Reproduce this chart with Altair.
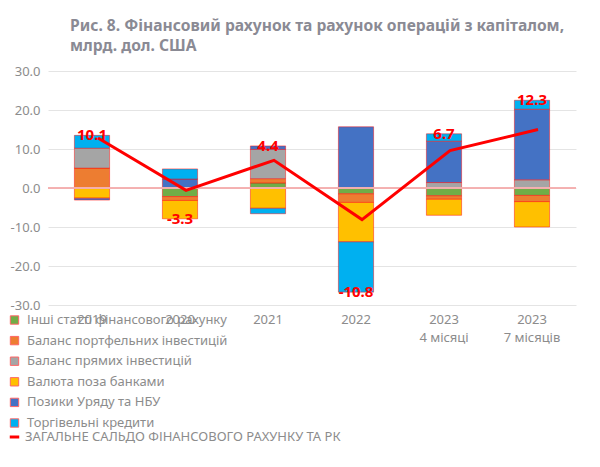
import altair as alt
import pandas as pd

categories = ["2019", "2020", "2021", "2022", "2023|4 місяці", "2023|7 місяців"]
series = [
    "Інші статті фінансового рахунку",
    "Баланс портфельних інвестицій",
    "Баланс прямих інвестицій",
    "Валюта поза банками",
    "Позики Уряду та НБУ",
    "Торгівельні кредити",
]
colors = ["#70AD47", "#ED7D31", "#A5A5A5", "#FFC000", "#4472C4", "#00B0F0"]

other = [0.0, -2.2, 1.3, -1.5, -2.0, -1.9]
portfolio = [5.1, -1.0, 1.1, -2.2, -0.9, -1.6]
direct = [5.1, 0.0, 7.5, 0.0, 1.4, 2.1]
currency = [-2.6, -4.7, -5.2, -10.1, -4.1, -6.5]
loans = [-0.5, 2.3, 0.9, 15.7, 10.6, 18.1]
trade = [3.3, 2.6, -1.4, -12.9, 1.9, 2.3]

total_line = [12.8, -0.6, 7.1, -8.1, 9.6, 15.0]
total_labels = [10.1, -3.3, 4.4, -10.8, 6.7, 12.3]
line_name = "ЗАГАЛЬНЕ САЛЬДО ФІНАНСОВОГО РАХУНКУ ТА РК"

title_lines = [
    "Рис. 8. Фінансовий рахунок та рахунок операцій з капіталом,",
    "млрд. дол. США",
]

series_values = [other, portfolio, direct, currency, loans, trade]
rows = []
for si, (name, vals) in enumerate(zip(series, series_values)):
    for ci, cat in enumerate(categories):
        rows.append({"cat": cat, "series": name, "order": si, "value": vals[ci]})
bars_df = pd.DataFrame(rows)

pos = bars_df[bars_df.value >= 0].groupby("cat").value.sum()
neg = bars_df[bars_df.value < 0].groupby("cat").value.sum()
lab_rows = []
for ci, cat in enumerate(categories):
    v = total_labels[ci]
    y = pos.get(cat, 0.0) if v > 0 else neg.get(cat, 0.0)
    lab_rows.append({"cat": cat, "label": f"{v:.1f}", "y": y})
labels_df = pd.DataFrame(lab_rows)

line_df = pd.DataFrame({"cat": categories, "value": total_line, "name": line_name})

FONT = "Noto Sans"
GRAY = "#8c8c8c"

xscale = alt.Scale(domain=categories, paddingInner=0.6, paddingOuter=0.3)
yscale = alt.Scale(domain=[-30, 30], nice=False)

y_axis = alt.Axis(
    values=[-30, -20, -10, 0, 10, 20, 30],
    labelExpr="replace(format(datum.value, '.1f'), '\u2212', '-')",
    labelOverlap=False,
    labelColor=GRAY,
    labelFontSize=13,
    labelFont=FONT,
    labelPadding=8,
    domain=False,
    ticks=False,
    gridColor="#e4e4e4",
)

x_enc = alt.X(
    "cat:N",
    scale=xscale,
    sort=categories,
    title=None,
    axis=alt.Axis(
        labelAngle=0,
        labelExpr="split(datum.label, '|')",
        labelColor=GRAY,
        labelFontSize=13,
        labelFont=FONT,
        labelPadding=8,
        domain=False,
        ticks=False,
        labelLineHeight=18,
    ),
)

bars = alt.Chart(bars_df).mark_bar(
    stroke="#ff0000", strokeOpacity=0.45, strokeWidth=1
).encode(
    x=x_enc,
    y=alt.Y("value:Q", scale=yscale, stack="zero", title=None, axis=y_axis),
    fill=alt.Fill(
        "series:N",
        scale=alt.Scale(domain=series, range=colors),
        sort=series,
        legend=alt.Legend(
            title=None,
            orient="none",
            legendX=-40,
            legendY=242.5,
            symbolType="square",
            symbolSize=70,
            symbolStrokeColor="#ff6666",
            symbolStrokeWidth=1,
            labelFontSize=13,
            labelFont=FONT,
            labelColor=GRAY,
            rowPadding=6.6,
            labelOffset=6,
            labelLimit=400,
        ),
    ),
    order=alt.Order("order:Q", sort="ascending"),
)

zero = alt.Chart(line_df).mark_rule(color="#f4b0b0", strokeWidth=1).encode(
    y=alt.datum(0, scale=yscale, axis=y_axis)
)

line = alt.Chart(line_df).mark_line(strokeWidth=3, xOffset=6).encode(
    x=x_enc,
    y=alt.Y("value:Q", scale=yscale, axis=y_axis),
    stroke=alt.Stroke(
        "name:N",
        scale=alt.Scale(domain=[line_name], range=["#ff0000"]),
        legend=alt.Legend(
            title=None,
            orient="none",
            legendX=-40,
            legendY=359.5,
            symbolType="stroke",
            symbolStrokeWidth=3,
            symbolSize=90,
            labelFontSize=13,
            labelFont=FONT,
            labelColor=GRAY,
            labelOffset=4,
            labelLimit=500,
        ),
    ),
)

labels = alt.Chart(labels_df).mark_text(
    color="#ff0000", fontWeight="bold", fontSize=15, font=FONT, baseline="middle"
).encode(
    x=x_enc,
    y=alt.Y("y:Q", scale=yscale, axis=y_axis),
    text="label:N",
)

chart = (
    alt.layer(bars, zero, line, labels)
    .resolve_legend(fill="independent", stroke="independent")
    .properties(
        width=528,
        height=234,
        autosize=alt.AutoSizeParams(type="none"),
        padding={"left": 40, "top": 63, "right": 16, "bottom": 150},
        title=alt.TitleParams(
            text=title_lines,
            anchor="start",
            frame="group",
            dx=22,
            offset=10,
            fontSize=15.6,
            fontWeight="bold",
            font=FONT,
            color="#8a8a94",
            lineHeight=20,
        ),
    )
    .configure_view(stroke=None)
    .configure_axisY(labelOverlap=False)
)

chart.save("out.html", embed_options={"renderer": "svg", "actions": False})
